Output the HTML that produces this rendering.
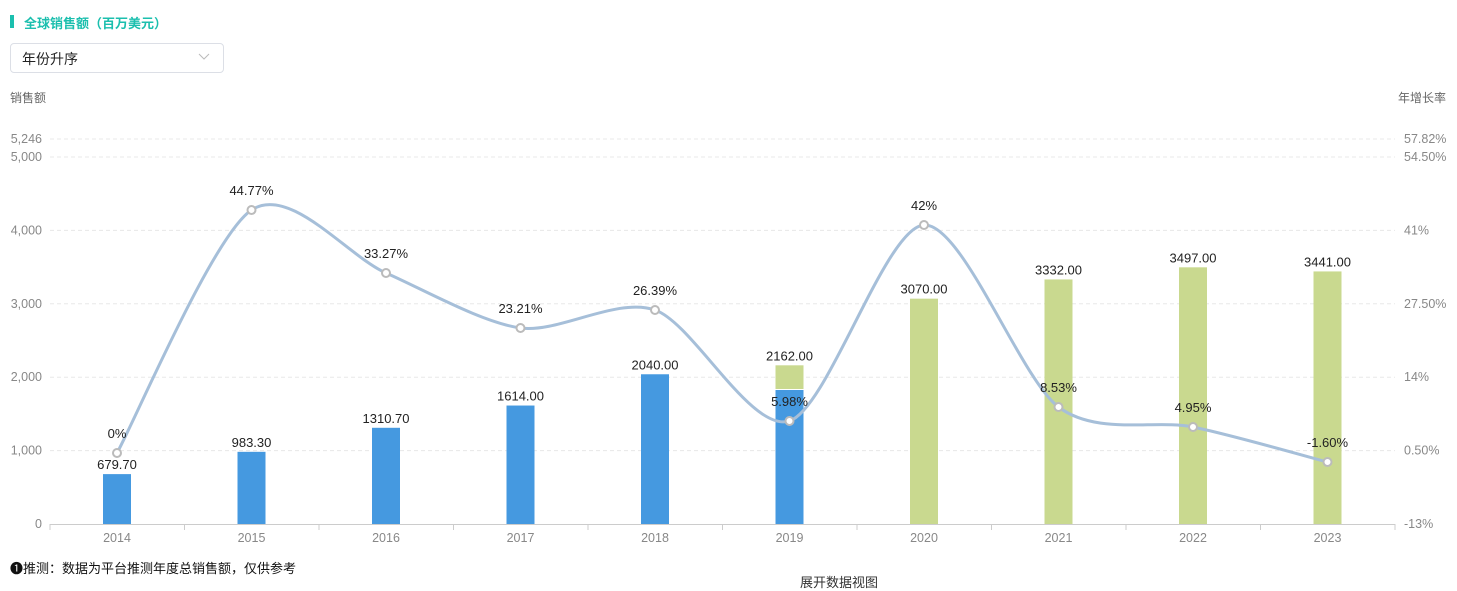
<!DOCTYPE html>
<html><head><meta charset="utf-8"><style>
body{margin:0;width:1457px;height:581px;background:#fff;font-family:"Liberation Sans","Noto Sans CJK SC",sans-serif;overflow:hidden;position:relative}
.t{position:absolute;white-space:nowrap}
</style></head><body>
<div class="t" style="left:10px;top:15px;width:4px;height:13px;background:#1bbfae"></div>
<div class="t" style="left:24px;top:13px;font-size:13px;font-weight:bold;color:#1bbfae">全球销售额（百万美元）</div>
<div class="t" style="left:10px;top:43px;width:212px;height:28px;border:1px solid #dcdfe6;border-radius:4px"></div>
<div class="t" style="left:22px;top:49px;font-size:14px;color:#222">年份升序</div>
<svg class="t" style="left:198px;top:53px" width="12" height="8"><path d="M1 1L6 6L11 1" fill="none" stroke="#bbb" stroke-width="1"/></svg>
<div class="t" style="left:10px;top:89px;font-size:12px;color:#666">销售额</div>
<div class="t" style="left:1398px;top:89px;font-size:12px;color:#666">年增长率</div>
<div class="t" style="left:10px;top:558px;font-size:13px;color:#111">❶推测：数据为平台推测年度总销售额，仅供参考</div>
<div class="t" style="left:800px;top:572px;font-size:13px;color:#333">展开数据视图</div>
<svg id="s" class="t" style="left:0;top:0" width="1457" height="581" font-family="Liberation Sans,sans-serif"></svg>
<script>
const s=document.getElementById('s');let h='';
const yl=v=>524-v*0.0734;
const L=[[0,'0'],[1000,'1,000'],[2000,'2,000'],[3000,'3,000'],[4000,'4,000'],[5000,'5,000'],[5246,'5,246']];
const R=['-13%','0.50%','14%','27.50%','41%','54.50%','57.82%'];
L.forEach((a,i)=>{const y=yl(a[0]);if(a[0]>0)h+=`<line x1="50" x2="1395" y1="${y}" y2="${y}" stroke="#e8e8e8" stroke-dasharray="4,3"/>`;
h+=`<text x="42" y="${y+4}" font-size="12.5" fill="#888" text-anchor="end">${a[1]}</text><text x="1404" y="${y+4}" font-size="12.5" fill="#888">${R[i]}</text>`;});
h+=`<line x1="50" x2="1395" y1="524.5" y2="524.5" stroke="#ccc"/>`;
const yrs=[2014,2015,2016,2017,2018,2019,2020,2021,2022,2023];
const v=[679.7,983.3,1310.7,1614,2040,2162,3070,3332,3497,3441];
for(let i=0;i<=10;i++){const x=50+i*134.5;h+=`<line x1="${x}" x2="${x}" y1="524" y2="530" stroke="#ccc"/>`;}
yrs.forEach((y,i)=>{const x=117+i*134.5;h+=`<text x="${x}" y="542" font-size="12.5" fill="#888" text-anchor="middle">${y}</text>`;
const top=yl(v[i]);
if(i<5)h+=`<rect x="${x-14}" y="${top}" width="28" height="${524-top}" fill="#4599e0"/>`;
else if(i==5){h+=`<rect x="${x-14}" y="${top}" width="28" height="${524-top}" fill="#c9d98f"/><rect x="${x-14}" y="390" width="28" height="134" fill="#4599e0"/><line x1="${x-14}" x2="${x+14}" y1="389.5" y2="389.5" stroke="#fff"/>`;}
else h+=`<rect x="${x-14}" y="${top}" width="28" height="${524-top}" fill="#c9d98f"/>`;
h+=`<text x="${x}" y="${top-5}" font-size="13" fill="#222" text-anchor="middle">${v[i].toFixed(2)}</text>`;});
const P=[453,210,273,328,310,421,225,407,427,462].map((y,i)=>[117+i*134.5,y]);
const lab=['0%','44.77%','33.27%','23.21%','26.39%','5.98%','42%','8.53%','4.95%','-1.60%'];
let d=`M${P[0][0]},${P[0][1]}`;const k=7;
for(let i=0;i<P.length-1;i++){const p0=P[Math.max(i-1,0)],p1=P[i],p2=P[i+1],p3=P[Math.min(i+2,P.length-1)];
d+=` C${p1[0]+(p2[0]-p0[0])/k},${p1[1]+(p2[1]-p0[1])/k} ${p2[0]-(p3[0]-p1[0])/k},${p2[1]-(p3[1]-p1[1])/k} ${p2[0]},${p2[1]}`;}
h+=`<path d="${d}" fill="none" stroke="#a6bfd9" stroke-width="3"/>`;
P.forEach((p,i)=>{h+=`<circle cx="${p[0]}" cy="${p[1]}" r="4" fill="#fff" stroke="#bbb" stroke-width="2"/><text x="${p[0]}" y="${p[1]-15}" font-size="13" fill="#222" text-anchor="middle">${lab[i]}</text>`;});
s.innerHTML=h;
</script>
</body></html>
